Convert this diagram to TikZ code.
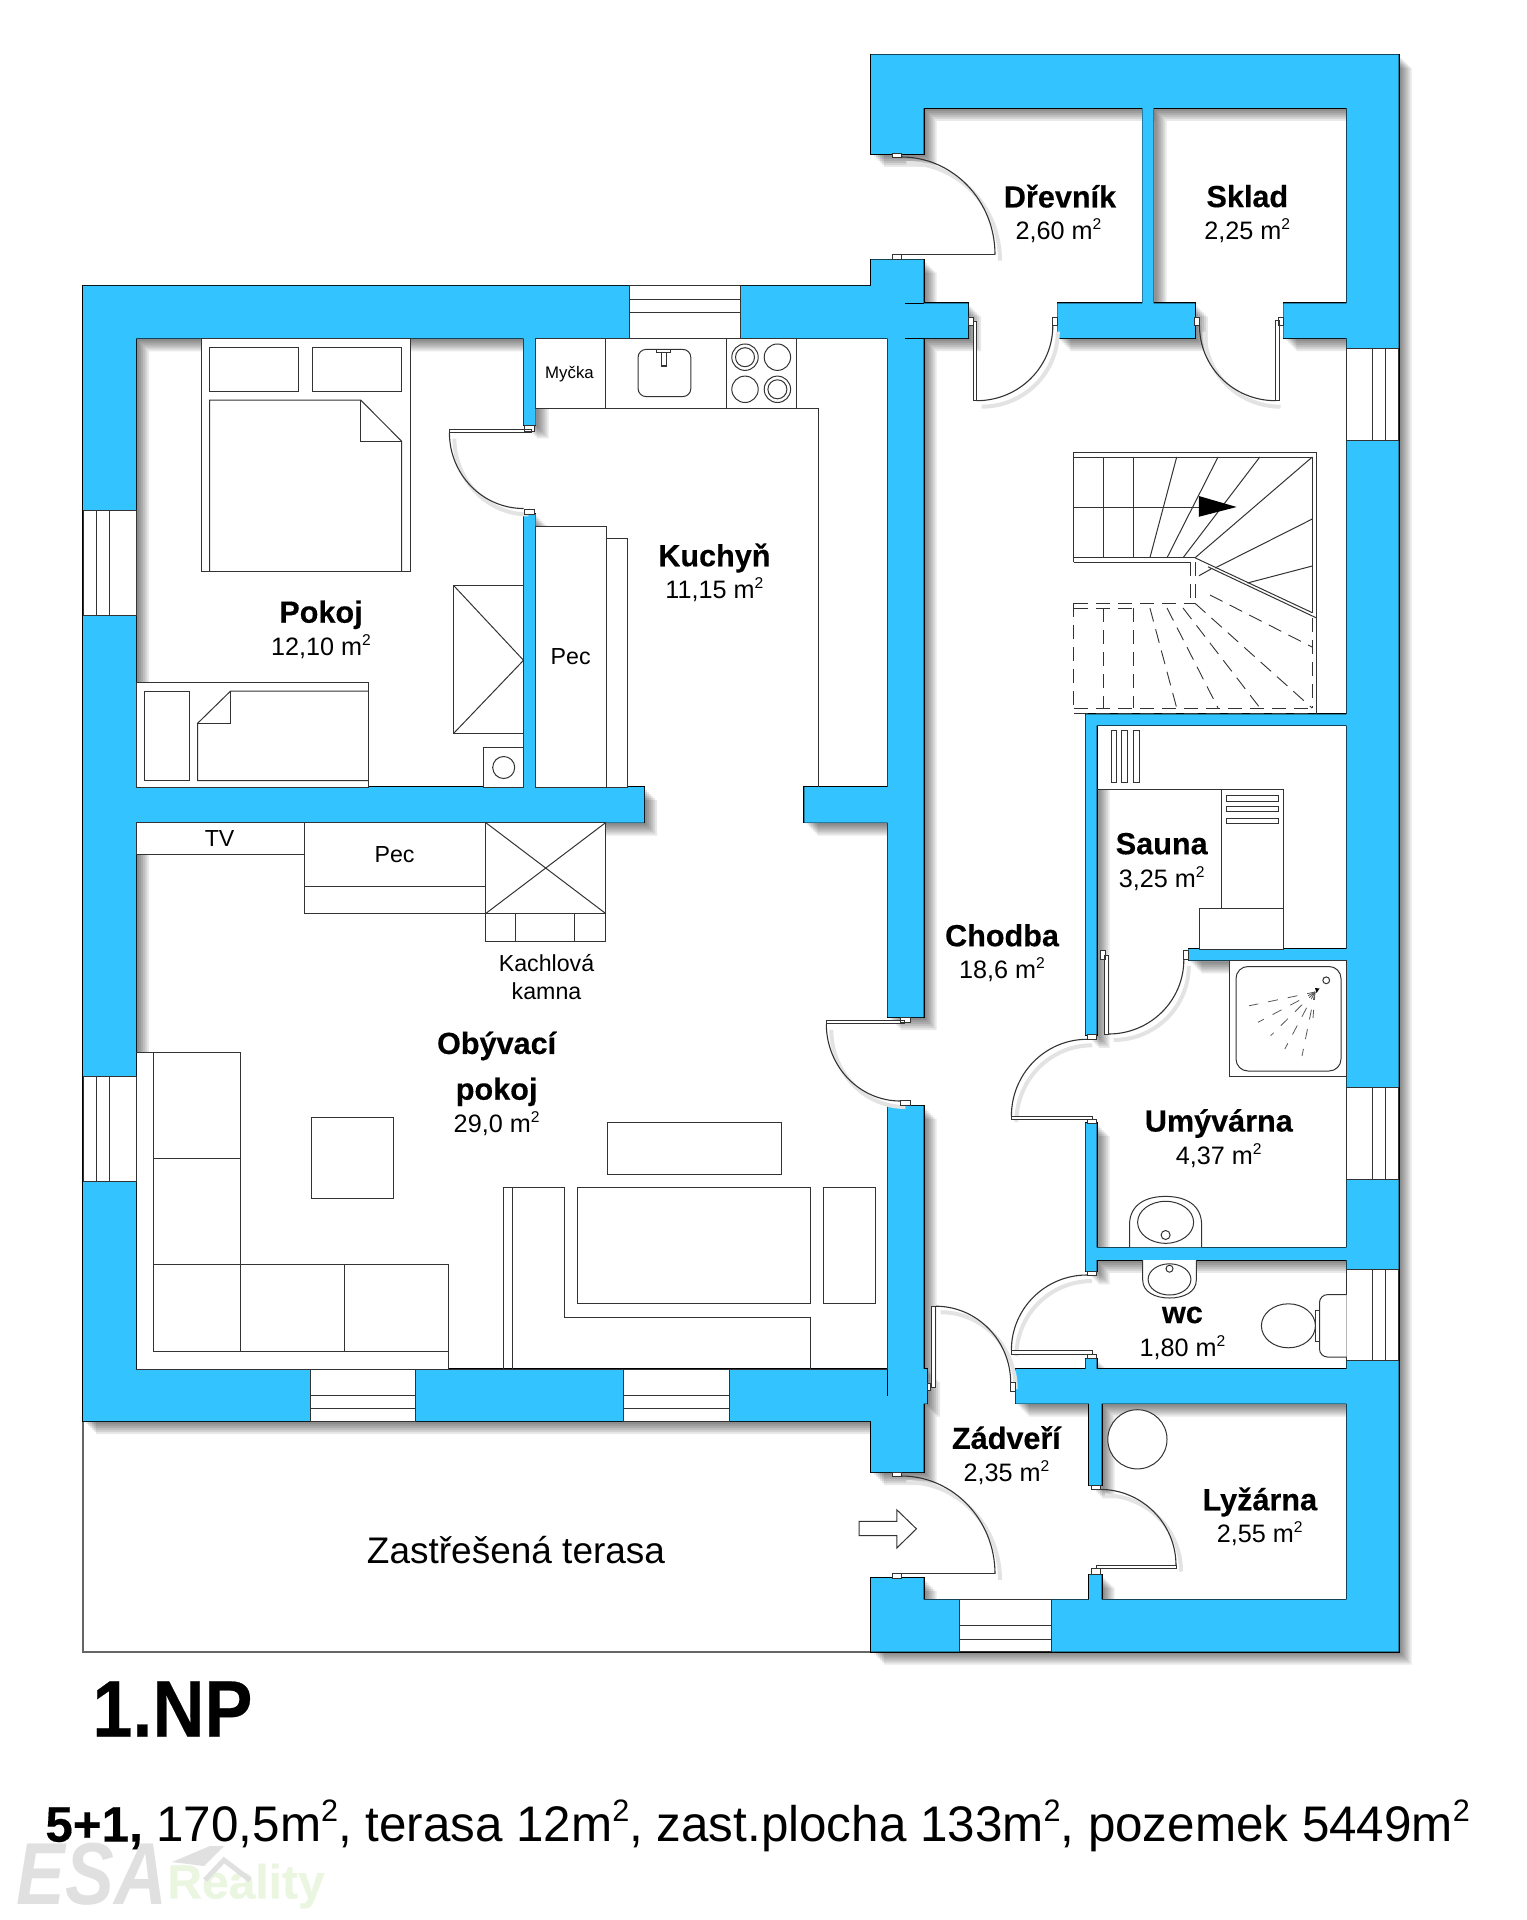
\documentclass[tikz,border=0pt]{standalone}
\usepackage{fontspec}
\setmainfont[BoldFeatures={FakeBold=0.3}]{Liberation Sans}
\usetikzlibrary{calc}
\definecolor{wallblue}{HTML}{33C4FF}
\definecolor{linegray}{HTML}{333333}
\newcommand{\sq}{\raisebox{.40em}{\scalebox{.62}{2}}}
\newcommand{\wallpath}{
 (871,54.7) rectangle (1398.6,107.9)
 (871,54.7) rectangle (923.6,153.8)
 (1142.4,107.9) rectangle (1153.5,303.4)
 (1346.6,54.7) rectangle (1398.6,1651.7)
 (83,286) rectangle (887.7,338.5)
 (83,286) rectangle (136.2,1421)
 (83,1369) rectangle (887.7,1421)
 (136,787) rectangle (644,822.5)
 (804.3,787) rectangle (887.7,822.5)
 (871,259.6) rectangle (923.6,286)
 (887.7,286) rectangle (923.6,1017)
 (887.7,1105.8) rectangle (923.6,1403.5)
 (923.6,1369) rectangle (927,1403.5)
 (871,1395) rectangle (923.6,1472)
 (523.5,338.5) rectangle (535.5,425.3)
 (523.5,514.2) rectangle (535.5,787)
 (923.6,303.4) rectangle (968.2,338.2)
 (1057.4,303.4) rectangle (1194.9,338.2)
 (1283.4,303.4) rectangle (1346.6,338.2)
 (1085.6,714.3) rectangle (1346.6,725.4)
 (1085.6,714.3) rectangle (1096.7,1034.8)
 (1188.4,949) rectangle (1346.6,960.3)
 (1085.6,1123.2) rectangle (1096.7,1271.4)
 (1085.6,1247.7) rectangle (1346.6,1259.8)
 (1085.6,1358.5) rectangle (1096.7,1369)
 (1015.7,1369) rectangle (1346.6,1403.5)
 (1089.2,1403.5) rectangle (1101.7,1485.4)
 (1089.2,1574.5) rectangle (1101.7,1599.6)
 (871,1578) rectangle (923.6,1651.7)
 (871,1599.6) rectangle (1398.6,1651.7)
}
\newcommand{\qarc}[6]{%
 \pgfmathsetmacro\pa{#1+.5523*(#3-#1)}\pgfmathsetmacro\pb{#2+.5523*(#4-#2)}%
 \pgfmathsetmacro\pc{#5+.5523*(#3-#5)}\pgfmathsetmacro\pd{#6+.5523*(#4-#6)}%
 \draw[black!11,line width=2pt,shift={(5,6)}] (#1,#2) .. controls (\pa,\pb) and (\pc,\pd) .. (#5,#6);%
 \draw[doorline] (#1,#2) .. controls (\pa,\pb) and (\pc,\pd) .. (#5,#6);}
\tikzset{
 x=0.5pt,y=-0.5pt,
 doorline/.style={draw=linegray,line width=0.55pt},
 frn/.style={draw=linegray,fill=white,line width=0.5pt},
 fln/.style={draw=linegray,line width=0.5pt},
 dsh/.style={draw=linegray,line width=0.45pt,dash pattern=on 7pt off 4pt},
 win/.style={draw=linegray,fill=white,line width=0.5pt},
 hinge/.style={draw=linegray,fill=white,line width=0.45pt},
 roomname/.style={font=\bfseries\fontsize{15.3}{18}\selectfont,inner sep=0pt},
 roomarea/.style={font=\fontsize{12.6}{15}\selectfont,inner sep=0pt},
 small/.style={font=\fontsize{11.6}{14}\selectfont,inner sep=0pt},
}
\begin{document}
\begin{tikzpicture}
\useasboundingbox (0,0) rectangle (1526,1920);
\fill[white] (0,0) rectangle (1526,1920);
% terrace
\draw[draw=black!60,line width=0.6pt] (83,1421) -- (83,1652) -- (871,1652);
% shadows
\foreach \d in {1,3,5,7,9,11,13}{
 \fill[black,fill opacity=0.09,shift={(\d,\d)}] \wallpath;
}
% walls: outline pass then fill pass
\draw[black,line width=0.9pt] \wallpath;
\fill[wallblue] \wallpath;
\draw[black,line width=0.4pt] (905.3,303.4) -- (923.6,303.4) (905.3,338.2) -- (923.6,338.2);
\draw[black,line width=0.4pt] (887.7,1369) -- (887.7,1396);
% windows
\draw[win] (629.9,286) rectangle (740,338.5);
\draw[fln] (629.9,299.5) -- (740,299.5) (629.9,312.5) -- (740,312.5);
\draw[win] (83,510.3) rectangle (136.2,615.7);
\draw[fln] (96.7,510.3) -- (96.7,615.7) (109.4,510.3) -- (109.4,615.7);
\draw[win] (83,1076.7) rectangle (136.2,1181.7);
\draw[fln] (96.7,1076.7) -- (96.7,1181.7) (109.4,1076.7) -- (109.4,1181.7);
\draw[win] (310.7,1369) rectangle (415.4,1421);
\draw[fln] (310.7,1395.5) -- (415.4,1395.5) (310.7,1408.5) -- (415.4,1408.5);
\draw[win] (623.3,1369) rectangle (729,1421);
\draw[fln] (623.3,1395.5) -- (729,1395.5) (623.3,1408.5) -- (729,1408.5);
\draw[win] (1346.6,348.9) rectangle (1398.6,440.9);
\draw[fln] (1372.7,348.9) -- (1372.7,440.9) (1385.5,348.9) -- (1385.5,440.9);
\draw[win] (1346.6,1087) rectangle (1398.6,1179);
\draw[fln] (1372.7,1087) -- (1372.7,1179) (1385.5,1087) -- (1385.5,1179);
\draw[win] (1346.6,1269) rectangle (1398.6,1360.7);
\draw[fln] (1372.7,1269) -- (1372.7,1360.7) (1385.5,1269) -- (1385.5,1360.7);
\draw[win] (959.2,1599.6) rectangle (1051.7,1651.7);
\draw[fln] (959.2,1625.7) -- (1051.7,1625.7) (959.2,1639) -- (1051.7,1639);
% kitchen
\fill[white] (536.5,339.3) rectangle (886.9,408.3);
\fill[white] (818,339.3) rectangle (886.9,786.2);
\draw[frn] (535.5,338.5) rectangle (796.6,408.3);
\draw[fln] (605.2,338.5) -- (605.2,408.3) (726.4,338.5) -- (726.4,408.3);
\draw[fln] (535.5,408.3) -- (818,408.3) -- (818,787);
\draw[fln,rounded corners=4pt] (638.1,349.4) rectangle (690.8,396.6);
\draw[fln] (656.8,349.4) rectangle (670,353) (661,353) rectangle (666,366);
\draw[fln] (745,357.2) circle[radius=13.2] (745,357.2) circle[radius=9.5];
\draw[fln] (777.4,357.2) circle[radius=13.2];
\draw[fln] (745,389.3) circle[radius=13.2];
\draw[fln] (777.4,389.3) circle[radius=13.2] (777.4,389.3) circle[radius=9.5];
\draw[frn] (535.5,526.3) rectangle (606.9,787);
\draw[frn] (606.9,538.5) rectangle (627.7,787);
% double bed
\draw[frn] (201.5,338.5) rectangle (410,571.4);
\draw[fln] (209.7,347.6) rectangle (298.6,391.4);
\draw[fln] (312.3,347.6) rectangle (401.7,391.4);
\draw[fln] (209.7,571.4) -- (209.7,400) -- (360.6,400) -- (401.7,441.3) -- (401.7,571.4);
\draw[fln] (360.6,400) -- (360.6,441.3) -- (401.7,441.3);
% chest and sink in Pokoj
\draw[frn] (453.8,585.7) rectangle (523.5,733.2);
\draw[fln] (453.8,585.7) -- (523.5,660.3) -- (453.8,733.2);
\draw[frn] (483.4,747) rectangle (523.5,787);
\draw[fln] (503.7,767.5) circle[radius=11];
% single bed
\draw[frn] (136.2,682.5) rectangle (368.3,787);
\draw[fln] (144.5,691) rectangle (189.4,780.5);
\draw[fln] (368.3,691) -- (230.6,691) -- (197.7,723.2) -- (197.7,780.5) -- (368.3,780.5);
\draw[fln] (230.6,691) -- (230.6,723.2) -- (197.7,723.2);
% living room top
\draw[frn] (136.2,822.5) rectangle (304.6,854.2);
\draw[frn] (304.6,822.5) rectangle (485.6,886.3);
\draw[frn] (304.6,886.3) rectangle (485.6,913.6);
\draw[frn] (485.6,822.5) rectangle (605.8,913.6);
\draw[fln] (485.6,822.5) -- (605.8,913.6) (485.6,913.6) -- (605.8,822.5);
\draw[frn] (485.6,913.6) rectangle (605.8,941.8);
\draw[fln] (515.8,913.6) -- (515.8,941.8) (574.5,913.6) -- (574.5,941.8);
% corner sofa
\fill[white] (137,1052.8) rectangle (153.2,1368.5);
\fill[white] (153.2,1351.7) rectangle (448.3,1368.5);
\draw[fln] (136.2,1052.8) -- (153.2,1052.8);
\draw[frn] (153.2,1052.8) rectangle (240.5,1158.7);
\draw[frn] (153.2,1158.7) rectangle (240.5,1264.5);
\draw[frn] (153.2,1264.5) rectangle (240.5,1351.7);
\draw[frn] (240.5,1264.5) rectangle (344.7,1351.7);
\draw[frn] (344.7,1264.5) rectangle (448.3,1351.7);
\draw[fln] (448.3,1351.7) -- (448.3,1369) -- (136.2,1369);
\draw[frn] (311.2,1117.9) rectangle (393,1198.6);
% right furniture
\draw[frn] (607.4,1122.7) rectangle (781.8,1174.7);
\draw[frn] (577.8,1187.7) rectangle (810.3,1303);
\draw[frn] (823.5,1187.7) rectangle (875.6,1303);
\draw[fln] (503.2,1369) -- (503.2,1187.7) -- (564,1187.7) -- (564,1317) -- (810.3,1317) -- (810.3,1369);
\draw[fln] (512,1187.7) -- (512,1369);
\draw[fln] (448.3,1369) -- (887.7,1369);
% stairs
\fill[white] (1073.8,452) rectangle (1316.6,562.3);
\fill[white] (1190.6,452) rectangle (1316.6,712);
\draw[fln] (1073.8,562.3) -- (1073.8,452) -- (1316.6,452) -- (1316.6,713);
\draw[fln] (1073.8,457) -- (1312.3,457) -- (1312.3,612.7);
\draw[fln] (1073.8,557.8) -- (1195,557.8) (1073.8,562.3) -- (1190.6,562.3);
\draw[fln] (1103.5,457) -- (1103.5,557.8) (1133.5,457) -- (1133.5,557.8);
\draw[fln] (1073.8,507) -- (1199,507);
\draw[fln] (1176.7,457) -- (1149.9,557.8) (1218,457) -- (1167,557.8) (1259.8,457) -- (1183,557.8) (1312.3,457) -- (1195,557.8);
\draw[fln] (1312.3,519) -- (1215,568) (1312.3,566) -- (1247.4,583);
\draw[fln] (1195,557.8) -- (1312.3,612.7) (1208,566.8) -- (1316.6,618) (1199,575.7) -- (1211,569);
\fill[black] (1198.8,496) -- (1236.6,507) -- (1198.8,516.8) -- cycle;
\draw[dsh] (1190.6,562.3) -- (1190.6,603.3) (1195,562) -- (1195,603.3);
\draw[dsh] (1073.8,603.3) -- (1195,603.3) (1073.8,608.3) -- (1133.5,608.3);
\draw[dsh] (1073.8,603.3) -- (1073.8,713) -- (1316.6,713) (1073.8,708) -- (1316.6,708);
\draw[dsh] (1103.5,608.3) -- (1103.5,708) (1133.5,608.3) -- (1133.5,708) (1312.3,618) -- (1312.3,708);
\draw[dsh] (1149.9,608) -- (1176.7,708) (1167,608) -- (1218,708) (1183,608) -- (1260,708) (1195,603.3) -- (1312,708) (1210,595) -- (1312,647);
% sauna
\fill[white] (1097.5,726.2) rectangle (1345.8,789.3);
\fill[white] (1283.8,726.2) rectangle (1345.8,948.2);
\draw[fln] (1096.7,789.3) -- (1283.8,789.3) -- (1283.8,949);
\draw[frn] (1221.3,789.3) rectangle (1283.8,908);
\draw[frn] (1199.5,908) rectangle (1283.8,949);
\draw[fln] (1111,730.4) rectangle (1116.3,782) (1121.3,730.4) rectangle (1127.4,782) (1133,730.4) rectangle (1139.2,782);
\draw[fln] (1226.3,795.5) rectangle (1278.4,801.3) (1226.3,806) rectangle (1278.4,811.6) (1226.3,818.3) rectangle (1278.4,823.6);
% shower
\draw[frn] (1229.9,960.3) rectangle (1346.6,1076.8);
\draw[fln,rounded corners=6pt] (1236,966.5) rectangle (1341,1071);
\draw[fln] (1326.2,980.3) circle[radius=3.4];
\fill[black] (1315,988) -- (1319.5,988.5) -- (1316.5,993) -- cycle;
\foreach \ex/\ey in {1249/1005.8,1258/1022.3,1270.6/1035.7,1284.8/1049,1302/1056,1313/1018}{
 \draw[draw=black!65,line width=0.4pt,dash pattern=on 5pt off 5pt,dash phase=1pt] (1315,992) -- (\ex,\ey);
}
% basins
\fill[white] (1129.5,1247) -- (1129.5,1225) .. controls (1129.5,1205) and (1145,1196.4) .. (1165.6,1196.4) .. controls (1186,1196.4) and (1201.6,1205) .. (1201.6,1225) -- (1201.6,1247) -- cycle;
\draw[fln] (1129.5,1247) -- (1129.5,1225) .. controls (1129.5,1205) and (1145,1196.4) .. (1165.6,1196.4) .. controls (1186,1196.4) and (1201.6,1205) .. (1201.6,1225) -- (1201.6,1247);
\draw[fln] (1165.6,1222.3) ellipse[x radius=28,y radius=21];
\draw[fln] (1165.6,1235) circle[radius=4.5];
\fill[white] (1142.7,1260) -- (1142.7,1280) .. controls (1142.7,1292) and (1155,1298) .. (1169.5,1298) .. controls (1184,1298) and (1196.3,1292) .. (1196.3,1280) -- (1196.3,1260) -- cycle;
\draw[fln] (1142.7,1260) -- (1142.7,1280) .. controls (1142.7,1292) and (1155,1298) .. (1169.5,1298) .. controls (1184,1298) and (1196.3,1292) .. (1196.3,1280) -- (1196.3,1260);
\draw[fln] (1169.5,1279.4) ellipse[x radius=21.4,y radius=15.6];
\draw[fln] (1169.5,1268.7) circle[radius=3.5];
% toilet
\draw[frn,rounded corners=4pt] (1346.6,1294.6) -- (1319.5,1294.6) -- (1319.5,1357) -- (1346.6,1357);
\draw[fln] (1315,1310) -- (1319.5,1310) (1315,1341) -- (1319.5,1341) (1315,1310) -- (1315,1341);
\draw[frn] (1288.4,1325.8) ellipse[x radius=27,y radius=22];
% round stove in Lyzarna
\draw[frn] (1137.4,1439.3) circle[radius=29.6];
% entrance arrow
\draw[fln,fill=white] (859.2,1521.4) -- (896.8,1521.4) -- (896.8,1509.8) -- (916.4,1528.8) -- (896.8,1548) -- (896.8,1535.5) -- (859.2,1535.5) -- cycle;
% doors
\qarc{901.4}{157}{995}{157}{995}{254.7}
\draw[doorline] (995,254.7) -- (901.4,254.7);
\draw[hinge] (892.5,153.8) rectangle (901.4,157.4) (892.5,254.7) rectangle (901.4,259.6);
\qarc{976.7}{400.7}{1052.8}{400.7}{1052.8}{325.7}
\draw[hinge] (973,321) rectangle (976.7,400.7) (968.2,317) rectangle (973,325) (1052.8,317) rectangle (1057.4,325.7);
\qarc{1199.5}{325.7}{1199.5}{400.7}{1275.5}{400.7}
\draw[hinge] (1275.5,320) rectangle (1279.5,400.7) (1194.9,317) rectangle (1199.5,325.7) (1278.4,317) rectangle (1283.4,325.7);
\qarc{449.4}{432.6}{449.4}{508.5}{523.5}{508.5}
\draw[hinge] (449.4,429.6) rectangle (531.7,432.6) (524.6,425.3) rectangle (534.5,431) (524.6,509) rectangle (534.5,514.2);
\qarc{826.3}{1023.8}{826.3}{1101}{900.3}{1101}
\draw[hinge] (826.3,1020.3) rectangle (904.7,1023.8) (900.3,1017.8) rectangle (910,1022.3) (900.3,1100.9) rectangle (910,1105.3);
\qarc{1108.5}{1034}{1183.8}{1034}{1183.8}{959.8}
\draw[hinge] (1104,955.3) rectangle (1108.5,1034) (1100,950) rectangle (1105,959.8) (1183.8,950) rectangle (1188.4,959.8);
\qarc{1087}{1039.3}{1011.4}{1039.3}{1011.4}{1116}
\draw[hinge] (1011.4,1116) rectangle (1092,1119.6) (1087,1034.8) rectangle (1096.3,1039.7) (1087,1119.6) rectangle (1096.3,1123.2);
\qarc{1087}{1275}{1011.4}{1275}{1011.4}{1350}
\draw[hinge] (1011.4,1350) rectangle (1092,1354) (1087,1271.4) rectangle (1096.3,1275) (1087,1354) rectangle (1096.3,1358.5);
\qarc{935.7}{1306.2}{1010.7}{1306.2}{1010.7}{1383}
\draw[hinge] (931.4,1306.2) rectangle (935.7,1387.5) (1010.7,1382.8) rectangle (1015.7,1391.2) (927,1383.5) rectangle (930.7,1390);
\qarc{901.4}{1476}{995}{1476}{995}{1573.9}
\draw[doorline] (995,1573.9) -- (901.4,1573.9);
\draw[hinge] (892.5,1472) rectangle (901.4,1476) (892.5,1573.9) rectangle (901.4,1578);
\qarc{1100}{1489.4}{1176}{1489.4}{1176}{1565.5}
\draw[hinge] (1096,1565.5) rectangle (1176,1568.9) (1091,1485.4) rectangle (1100,1489.4) (1091,1568.9) rectangle (1100,1574.5);
% watermark
\node[inner sep=0pt,text=black!12,font=\bfseries\itshape\fontsize{44}{48}\selectfont] (wmesa) at (92,1874) {\scalebox{.83}[1]{ESA}};
\node[inner sep=0pt,text=green!40!olive!12,font=\bfseries\fontsize{24}{28}\selectfont] (wmreal) at (246,1886) {Reality};
\fill[black!12] (172,1862) -- (210,1846) -- (224,1846) -- (204,1866) -- cycle;
\draw[black!12,line width=2.5pt] (205,1880) -- (224,1860) -- (250,1880);
% labels
\node[roomname] (n1) at (1060,196.2) {Dřevník};
\node[roomarea] (a1) at (1058.5,230.6) {2,60 m\sq};
\node[roomname] (n2) at (1247.3,196.2) {Sklad};
\node[roomarea] (a2) at (1247.3,230.6) {2,25 m\sq};
\node[roomname] (n3) at (714.4,558) {Kuchyň};
\node[roomarea] (a3) at (714.4,590) {11,15 m\sq};
\node[roomname] (n4) at (321,614.8) {Pokoj};
\node[roomarea] (a4) at (321,646.4) {12,10 m\sq};
\node[small] (p1) at (570.7,656.4) {Pec};
\node[font=\fontsize{8.4}{10}\selectfont,inner sep=0pt] (my) at (569.5,373.7) {Myčka};
\node[small] (tv) at (219.6,838.5) {TV};
\node[small] (p2) at (394.6,854.2) {Pec};
\node[small] (k1) at (546.5,963.5) {Kachlová};
\node[small] (k2) at (546.5,991.3) {kamna};
\node[roomname] (n5) at (496.6,1045.9) {Obývací};
\node[roomname] (n5b) at (496.6,1091.8) {pokoj};
\node[roomarea] (a5) at (496.6,1123.5) {29,0 m\sq};
\node[roomname] (n6) at (1002,935.3) {Chodba};
\node[roomarea] (a6) at (1002,969.6) {18,6 m\sq};
\node[roomname] (n7) at (1161.7,843.7) {Sauna};
\node[roomarea] (a7) at (1161.7,878.6) {3,25 m\sq};
\node[roomname] (n8) at (1218.8,1123.5) {Umývárna};
\node[roomarea] (a8) at (1218.8,1155.8) {4,37 m\sq};
\node[roomname] (n9) at (1182.4,1315) {wc};
\node[roomarea] (a9) at (1182.4,1347.4) {1,80 m\sq};
\node[roomname] (n10) at (1006.4,1437.6) {Zádveří};
\node[roomarea] (a10) at (1006.4,1473) {2,35 m\sq};
\node[roomname] (n11) at (1259.8,1502) {Lyžárna};
\node[roomarea] (a11) at (1259.8,1533.8) {2,55 m\sq};
\node[font=\fontsize{18.5}{22}\selectfont,inner sep=0pt] (ter) at (516,1550.5) {Zastřešená terasa};
\node[font=\bfseries\fontsize{40}{46}\selectfont,inner sep=0pt,anchor=west] (np) at (92,1709) {\scalebox{.90}[1]{1.NP}};
\node[font=\fontsize{25}{30}\selectfont,inner sep=0pt,anchor=west] (sum) at (45,1826) {\scalebox{.987}[1]{\textbf{5+1,} 170,5m\sq, terasa 12m\sq, zast.plocha 133m\sq, pozemek 5449m\sq}};
\end{tikzpicture}
\end{document}
